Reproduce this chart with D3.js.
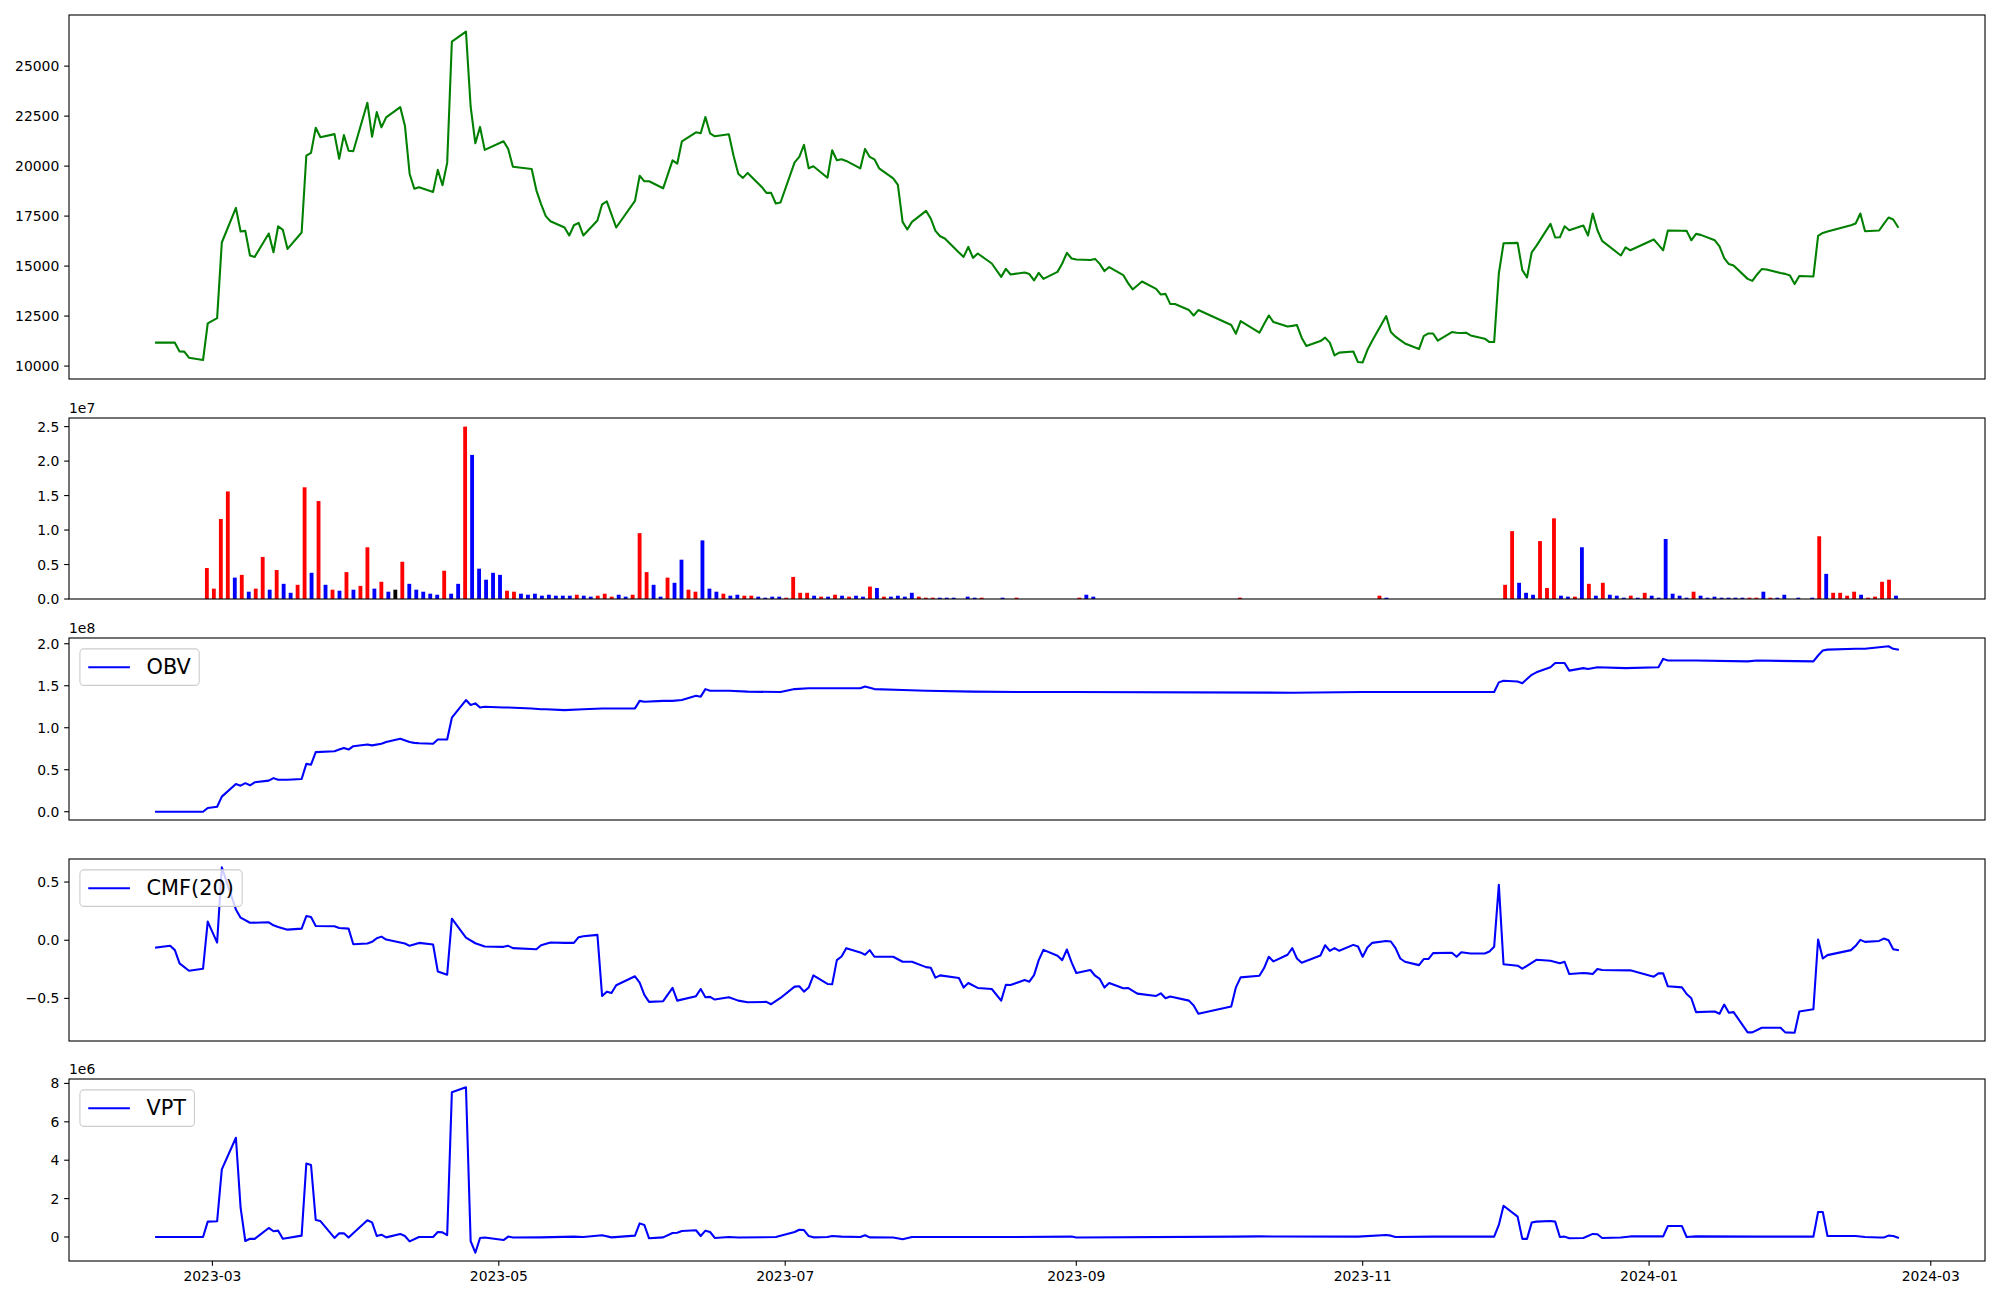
<!DOCTYPE html>
<html><head><meta charset="utf-8">
<script src="https://cdn.jsdelivr.net/npm/d3@7"></script>
<style>body{margin:0;background:#fff}svg{display:block}text{font-family:"DejaVu Sans",sans-serif;fill:#000}</style>
</head><body><svg id="c" width="2000" height="1300"></svg>
<script>
// ---------------- DATA ----------------
const xTickLabels = ["2023-03","2023-05","2023-07","2023-09","2023-11","2024-01","2024-03"];
const priceTicks = [10000,12500,15000,17500,20000,22500,25000];
const volTicks = [0,5,10,15,20,25];          // in 1e6 (shown as x1e7)
const obvTicks = [0,0.5,1,1.5,2];            // x1e8
const cmfTicks = [-0.5,0,0.5];
const vptTicks = [0,2,4,6,8];                // x1e6

const pricePoints = [
["2023-02-17",11170],["2023-02-21",11170],["2023-02-22",10730],["2023-02-23",10720],["2023-02-24",10420],["2023-02-27",10300],["2023-02-28",12130],
["2023-03-02",12400],["2023-03-03",16180],["2023-03-06",17910],["2023-03-07",16730],["2023-03-08",16760],["2023-03-09",15530],["2023-03-10",15460],
["2023-03-13",16630],["2023-03-14",15690],["2023-03-15",16990],["2023-03-16",16810],["2023-03-17",15860],["2023-03-20",16680],["2023-03-21",20520],
["2023-03-22",20660],["2023-03-23",21920],["2023-03-24",21440],["2023-03-27",21600],["2023-03-28",20370],["2023-03-29",21550],["2023-03-30",20770],
["2023-03-31",20740],["2023-04-03",23170],["2023-04-04",21470],["2023-04-05",22700],["2023-04-06",21940],["2023-04-07",22440],["2023-04-10",22950],
["2023-04-11",22020],["2023-04-12",19620],["2023-04-13",18870],["2023-04-14",18940],["2023-04-17",18710],["2023-04-18",19810],["2023-04-19",19040],
["2023-04-20",20160],["2023-04-21",26230],["2023-04-24",26730],["2023-04-25",22970],["2023-04-26",21140],["2023-04-27",21960],["2023-04-28",20810],
["2023-05-02",21240],["2023-05-03",20860],["2023-05-04",19970],["2023-05-08",19860],["2023-05-09",18790],["2023-05-10",18100],["2023-05-11",17500],
["2023-05-12",17240],["2023-05-15",16930],["2023-05-16",16530],["2023-05-17",17040],["2023-05-18",17160],["2023-05-19",16530],["2023-05-22",17280],
["2023-05-23",18090],["2023-05-24",18240],["2023-05-25",17590],["2023-05-26",16930],["2023-05-30",18260],["2023-05-31",19520],["2023-06-01",19240],
["2023-06-02",19240],["2023-06-05",18890],["2023-06-07",20290],["2023-06-08",20120],["2023-06-09",21240],["2023-06-12",21690],["2023-06-13",21640],
["2023-06-14",22450],["2023-06-15",21640],["2023-06-16",21490],["2023-06-19",21590],["2023-06-20",20520],["2023-06-21",19620],["2023-06-22",19410],
["2023-06-23",19660],["2023-06-26",18960],["2023-06-27",18660],["2023-06-28",18660],["2023-06-29",18130],["2023-06-30",18180],["2023-07-03",20190],
["2023-07-04",20460],["2023-07-05",21060],["2023-07-06",19890],["2023-07-07",19990],["2023-07-10",19420],["2023-07-11",20790],["2023-07-12",20290],
["2023-07-13",20340],["2023-07-14",20260],["2023-07-17",19890],["2023-07-18",20860],["2023-07-19",20460],["2023-07-20",20340],["2023-07-21",19890],
["2023-07-24",19390],["2023-07-25",19060],["2023-07-26",17210],["2023-07-27",16830],["2023-07-28",17210],["2023-07-31",17760],["2023-08-01",17380],
["2023-08-02",16760],["2023-08-03",16490],["2023-08-04",16380],["2023-08-07",15680],["2023-08-08",15460],["2023-08-09",15960],["2023-08-10",15410],
["2023-08-11",15630],["2023-08-14",15130],["2023-08-16",14460],["2023-08-17",14860],["2023-08-18",14580],["2023-08-21",14680],["2023-08-22",14600],
["2023-08-23",14280],["2023-08-24",14660],["2023-08-25",14360],["2023-08-28",14710],["2023-08-29",15130],["2023-08-30",15660],["2023-08-31",15380],
["2023-09-01",15330],["2023-09-04",15300],["2023-09-05",15360],["2023-09-06",15110],["2023-09-07",14750],["2023-09-08",14950],["2023-09-11",14550],
["2023-09-12",14160],["2023-09-13",13830],["2023-09-14",14030],["2023-09-15",14230],["2023-09-18",13860],["2023-09-19",13580],["2023-09-20",13610],
["2023-09-21",13110],["2023-09-22",13100],["2023-09-25",12800],["2023-09-26",12530],["2023-09-27",12800],["2023-10-04",12050],["2023-10-05",11620],
["2023-10-06",12250],["2023-10-10",11670],["2023-10-11",12100],["2023-10-12",12530],["2023-10-13",12200],["2023-10-16",11980],["2023-10-17",12010],
["2023-10-18",12050],["2023-10-19",11420],["2023-10-20",11000],["2023-10-23",11250],["2023-10-24",11420],["2023-10-25",11170],["2023-10-26",10530],
["2023-10-27",10670],["2023-10-30",10730],["2023-10-31",10200],["2023-11-01",10180],["2023-11-02",10800],["2023-11-03",11250],["2023-11-06",12500],
["2023-11-07",11700],["2023-11-08",11470],["2023-11-09",11300],["2023-11-10",11130],["2023-11-13",10850],["2023-11-14",11500],["2023-11-15",11630],
["2023-11-16",11630],["2023-11-17",11270],["2023-11-20",11700],["2023-11-21",11670],["2023-11-22",11650],["2023-11-23",11670],["2023-11-24",11530],
["2023-11-27",11370],["2023-11-28",11200],["2023-11-29",11200],["2023-11-30",14630],["2023-12-01",16140],["2023-12-04",16160],["2023-12-05",14800],
["2023-12-06",14430],["2023-12-07",15690],["2023-12-08",16010],["2023-12-11",17110],["2023-12-12",16430],["2023-12-13",16440],["2023-12-14",16990],
["2023-12-15",16790],["2023-12-18",17030],["2023-12-19",16530],["2023-12-20",17630],["2023-12-21",16790],["2023-12-22",16260],["2023-12-26",15530],
["2023-12-27",15940],["2023-12-28",15790],["2024-01-02",16330],["2024-01-03",16060],["2024-01-04",15790],["2024-01-05",16780],["2024-01-08",16770],
["2024-01-09",16760],["2024-01-10",16290],["2024-01-11",16610],["2024-01-12",16560],["2024-01-15",16290],["2024-01-16",15990],["2024-01-17",15400],
["2024-01-18",15100],["2024-01-19",15030],["2024-01-22",14360],["2024-01-23",14260],["2024-01-24",14580],["2024-01-25",14850],["2024-01-26",14830],
["2024-01-29",14650],["2024-01-30",14610],["2024-01-31",14530],["2024-02-01",14100],["2024-02-02",14500],["2024-02-05",14480],["2024-02-06",16510],
["2024-02-07",16660],["2024-02-08",16730],["2024-02-13",17040],["2024-02-14",17130],["2024-02-15",17630],["2024-02-16",16740],["2024-02-19",16780],
["2024-02-20",17110],["2024-02-21",17430],["2024-02-22",17330],["2024-02-23",16960]
];

// volume per trading day (index order), in millions
const volumeM = [
0,0,0,0,0,0,0,4.5,1.5,11.6,
15.6,3.1,3.5,1.06,1.5,6.1,1.35,4.2,2.2,0.9,
2.06,16.2,3.8,14.2,2.06,1.35,1.2,3.9,1.35,1.9,
7.5,1.5,2.5,1.06,1.35,5.4,2.2,1.35,1.06,0.77,
0.62,4.1,0.77,2.2,25.0,20.9,4.4,2.8,3.8,3.5,
1.2,1.06,0.77,0.62,0.77,0.48,0.62,0.48,0.48,0.48,
0.62,0.48,0.34,0.48,0.77,0.34,0.62,0.34,0.62,9.55,
3.9,2.06,0.34,3.1,2.35,5.7,1.35,1.06,8.5,1.5,
1.06,0.77,0.48,0.62,0.48,0.48,0.34,0.19,0.34,0.34,
0.19,3.2,0.9,0.9,0.48,0.34,0.34,0.62,0.48,0.34,
0.48,0.34,1.8,1.6,0.34,0.34,0.48,0.34,0.9,0.34,
0.19,0.19,0.19,0.19,0.19,0,0.34,0.19,0.19,0,
0,0.19,0,0.19,0,0,0,0,0,0,
0,0,0.19,0.62,0.34,0,0,0,0,0,
0,0,0,0,0,0,0,0,0,0,
0,0,0,0,0,0.19,0,0,0,0,
0,0,0,0,0,0,0,0,0,0,
0,0,0,0,0,0.48,0.19,0,0,0,
0,0,0,0,0,0,0,0,0,0,
0,0,0,2.06,9.84,2.35,0.9,0.62,8.4,1.6,
11.7,0.48,0.34,0.34,7.5,2.2,0.48,2.35,0.62,0.48,
0.19,0.48,0.19,0.9,0.48,0.19,8.7,0.77,0.48,0.19,
1.06,0.48,0.19,0.34,0.19,0.19,0.19,0.19,0.19,0.19,
1.06,0.19,0.19,0.62,0,0.19,0,0.19,9.1,3.65,
0.9,0.9,0.48,1.06,0.62,0.19,0.34,2.5,2.8,0.48
];
// bar colour code per trading day: r = red, b = blue, k = black, - = none
const volumeColorCodes = [
"-------rrr","rbrbrrbrbb","rrbrbrbrbr","rbrbkrbbbb","brbbrbbbbb",
"rrbbbbbbbb","rbbrrrbbrr","rbbrbbrrbb","brbbrrbbbb","rrrrbrbrbr",
"bbrbrbbbbr","rrbbb-bbr-","-b-r------","--rbb-----","----------",
"-----r----","----------","-----rb---","----------","---rrbbbrr",
"rbbrbrbrbb","brbrbbbbbb","rbbbbbbbrr","brbb-b-brb","rrrrbrrrrb"
].join("");

const obvPoints = [ // x1e8
["2023-02-17",0],["2023-02-27",0],["2023-02-28",0.045],["2023-03-02",0.06],["2023-03-03",0.18],["2023-03-06",0.33],["2023-03-07",0.31],
["2023-03-08",0.34],["2023-03-09",0.315],["2023-03-10",0.35],["2023-03-13",0.37],["2023-03-14",0.40],["2023-03-15",0.38],["2023-03-17",0.38],
["2023-03-20",0.39],["2023-03-21",0.57],["2023-03-22",0.56],["2023-03-23",0.71],["2023-03-27",0.72],["2023-03-28",0.74],["2023-03-29",0.76],
["2023-03-30",0.74],["2023-03-31",0.78],["2023-04-03",0.80],["2023-04-04",0.79],["2023-04-06",0.81],["2023-04-07",0.83],["2023-04-10",0.87],
["2023-04-12",0.83],["2023-04-13",0.82],["2023-04-14",0.815],["2023-04-17",0.81],["2023-04-18",0.86],["2023-04-20",0.86],["2023-04-21",1.12],
["2023-04-24",1.33],["2023-04-25",1.27],["2023-04-26",1.29],["2023-04-27",1.24],["2023-04-28",1.25],["2023-05-02",1.24],["2023-05-03",1.24],
["2023-05-08",1.23],["2023-05-10",1.22],["2023-05-11",1.22],["2023-05-15",1.21],["2023-05-19",1.22],["2023-05-23",1.23],["2023-05-26",1.23],
["2023-05-30",1.23],["2023-05-31",1.32],["2023-06-01",1.31],["2023-06-05",1.32],["2023-06-07",1.32],["2023-06-09",1.33],["2023-06-12",1.38],
["2023-06-13",1.37],["2023-06-14",1.46],["2023-06-15",1.44],["2023-06-19",1.44],["2023-06-23",1.43],["2023-06-30",1.425],["2023-07-03",1.46],
["2023-07-06",1.47],["2023-07-13",1.47],["2023-07-17",1.47],["2023-07-18",1.49],["2023-07-20",1.46],["2023-07-26",1.45],["2023-07-31",1.44],
["2023-08-10",1.43],["2023-08-21",1.425],["2023-08-31",1.425],["2023-10-17",1.417],["2023-11-01",1.425],["2023-11-13",1.425],["2023-11-29",1.425],
["2023-11-30",1.54],["2023-12-01",1.56],["2023-12-04",1.55],["2023-12-05",1.53],["2023-12-07",1.63],["2023-12-08",1.66],["2023-12-11",1.72],
["2023-12-12",1.77],["2023-12-14",1.77],["2023-12-15",1.68],["2023-12-18",1.71],["2023-12-19",1.70],["2023-12-21",1.72],["2023-12-27",1.71],
["2024-01-03",1.72],["2024-01-04",1.82],["2024-01-05",1.80],["2024-01-11",1.80],["2024-01-22",1.79],["2024-01-24",1.80],["2024-02-05",1.79],
["2024-02-06",1.86],["2024-02-07",1.92],["2024-02-08",1.93],["2024-02-14",1.94],["2024-02-16",1.94],["2024-02-21",1.97],["2024-02-22",1.94],
["2024-02-23",1.93]
];

const cmfPoints = [
["2023-02-17",-0.063],["2023-02-20",-0.048],["2023-02-21",-0.085],["2023-02-22",-0.199],["2023-02-24",-0.262],["2023-02-27",-0.245],["2023-02-28",0.160],
["2023-03-02",-0.02],["2023-03-03",0.627],["2023-03-06",0.265],["2023-03-07",0.194],["2023-03-09",0.150],["2023-03-13",0.154],["2023-03-14",0.128],
["2023-03-15",0.114],["2023-03-17",0.091],["2023-03-20",0.10],["2023-03-21",0.208],["2023-03-22",0.20],["2023-03-23",0.123],["2023-03-27",0.12],
["2023-03-28",0.105],["2023-03-30",0.10],["2023-03-31",-0.034],["2023-04-03",-0.028],["2023-04-04",-0.014],["2023-04-05",0.017],["2023-04-06",0.031],
["2023-04-07",0.006],["2023-04-10",-0.02],["2023-04-11",-0.028],["2023-04-12",-0.048],["2023-04-14",-0.023],["2023-04-17",-0.037],["2023-04-18",-0.268],
["2023-04-20",-0.296],["2023-04-21",0.185],["2023-04-24",0.023],["2023-04-26",-0.026],["2023-04-28",-0.054],["2023-05-02",-0.057],["2023-05-03",-0.048],
["2023-05-04",-0.068],["2023-05-09",-0.077],["2023-05-10",-0.043],["2023-05-12",-0.02],["2023-05-15",-0.023],["2023-05-17",-0.023],["2023-05-18",0.026],
["2023-05-19",0.034],["2023-05-22",0.046],["2023-05-23",-0.479],["2023-05-24",-0.442],["2023-05-25",-0.453],["2023-05-26",-0.387],["2023-05-30",-0.31],
["2023-05-31",-0.365],["2023-06-01",-0.47],["2023-06-02",-0.53],["2023-06-05",-0.524],["2023-06-07",-0.41],["2023-06-08",-0.519],["2023-06-12",-0.481],
["2023-06-13",-0.419],["2023-06-14",-0.49],["2023-06-15",-0.487],["2023-06-16",-0.51],["2023-06-19",-0.49],["2023-06-21",-0.519],["2023-06-23",-0.533],
["2023-06-27",-0.53],["2023-06-28",-0.55],["2023-06-30",-0.496],["2023-07-03",-0.399],["2023-07-04",-0.396],["2023-07-05",-0.442],["2023-07-06",-0.407],
["2023-07-07",-0.302],["2023-07-10",-0.376],["2023-07-11",-0.379],["2023-07-12",-0.171],["2023-07-13",-0.140],["2023-07-14",-0.068],["2023-07-17",-0.105],
["2023-07-18",-0.125],["2023-07-19",-0.085],["2023-07-20",-0.142],["2023-07-24",-0.142],["2023-07-26",-0.185],["2023-07-28",-0.185],["2023-07-31",-0.231],
["2023-08-01",-0.236],["2023-08-02",-0.322],["2023-08-03",-0.302],["2023-08-07",-0.325],["2023-08-08",-0.407],["2023-08-09",-0.368],["2023-08-11",-0.41],
["2023-08-14",-0.419],["2023-08-16",-0.519],["2023-08-17",-0.382],["2023-08-18",-0.385],["2023-08-21",-0.342],["2023-08-22",-0.356],["2023-08-23",-0.30],
["2023-08-24",-0.171],["2023-08-25",-0.083],["2023-08-28",-0.134],["2023-08-29",-0.171],["2023-08-30",-0.08],["2023-08-31",-0.191],["2023-09-01",-0.282],
["2023-09-04",-0.256],["2023-09-05",-0.305],["2023-09-06",-0.333],["2023-09-07",-0.407],["2023-09-08",-0.367],["2023-09-11",-0.413],["2023-09-12",-0.41],
["2023-09-14",-0.459],["2023-09-18",-0.479],["2023-09-19",-0.456],["2023-09-20",-0.499],["2023-09-21",-0.484],["2023-09-25",-0.519],["2023-09-26",-0.561],
["2023-09-27",-0.632],["2023-10-04",-0.570],["2023-10-05",-0.405],["2023-10-06",-0.319],["2023-10-10",-0.305],["2023-10-11",-0.239],["2023-10-12",-0.142],
["2023-10-13",-0.182],["2023-10-16",-0.125],["2023-10-17",-0.068],["2023-10-18",-0.157],["2023-10-19",-0.194],["2023-10-23",-0.131],["2023-10-24",-0.043],
["2023-10-25",-0.091],["2023-10-26",-0.068],["2023-10-27",-0.091],["2023-10-30",-0.04],["2023-10-31",-0.054],["2023-11-01",-0.142],["2023-11-02",-0.063],
["2023-11-03",-0.023],["2023-11-06",-0.006],["2023-11-07",-0.011],["2023-11-08",-0.068],["2023-11-09",-0.157],["2023-11-10",-0.185],["2023-11-13",-0.214],
["2023-11-14",-0.162],["2023-11-15",-0.162],["2023-11-16",-0.111],["2023-11-20",-0.108],["2023-11-21",-0.142],["2023-11-22",-0.103],["2023-11-24",-0.114],
["2023-11-27",-0.114],["2023-11-28",-0.097],["2023-11-29",-0.057],["2023-11-30",0.476],["2023-12-01",-0.207],["2023-12-04",-0.219],["2023-12-05",-0.245],
["2023-12-08",-0.168],["2023-12-11",-0.177],["2023-12-13",-0.197],["2023-12-14",-0.185],["2023-12-15",-0.291],["2023-12-18",-0.282],["2023-12-19",-0.285],
["2023-12-20",-0.291],["2023-12-21",-0.248],["2023-12-22",-0.256],["2023-12-28",-0.259],["2024-01-02",-0.313],["2024-01-03",-0.285],["2024-01-04",-0.285],
["2024-01-05",-0.396],["2024-01-08",-0.405],["2024-01-09",-0.462],["2024-01-10",-0.499],["2024-01-11",-0.618],["2024-01-15",-0.613],["2024-01-16",-0.632],
["2024-01-17",-0.553],["2024-01-18",-0.624],["2024-01-19",-0.618],["2024-01-22",-0.792],["2024-01-23",-0.792],["2024-01-25",-0.752],["2024-01-29",-0.752],
["2024-01-30",-0.792],["2024-02-01",-0.795],["2024-02-02",-0.613],["2024-02-05",-0.593],["2024-02-06",0.006],["2024-02-07",-0.157],["2024-02-08",-0.128],
["2024-02-13",-0.085],["2024-02-14",-0.048],["2024-02-15",0.003],["2024-02-16",-0.014],["2024-02-19",-0.006],["2024-02-20",0.014],["2024-02-21",0.0],
["2024-02-22",-0.077],["2024-02-23",-0.085]
];

const vptPoints = [ // x1e6
["2023-02-17",0],["2023-02-27",0],["2023-02-28",0.80],["2023-03-02",0.82],["2023-03-03",3.52],["2023-03-06",5.17],["2023-03-07",1.53],
["2023-03-08",-0.21],["2023-03-09",-0.09],["2023-03-10",-0.10],["2023-03-13",0.47],["2023-03-14",0.30],["2023-03-15",0.33],["2023-03-16",-0.09],
["2023-03-17",-0.05],["2023-03-20",0.07],["2023-03-21",3.83],["2023-03-22",3.75],["2023-03-23",0.89],["2023-03-24",0.83],["2023-03-27",-0.05],
["2023-03-28",0.19],["2023-03-29",0.19],["2023-03-30",-0.03],["2023-04-03",0.87],["2023-04-04",0.76],["2023-04-05",0.05],["2023-04-06",0.12],
["2023-04-07",-0.02],["2023-04-10",0.16],["2023-04-11",0.05],["2023-04-12",-0.23],["2023-04-14",0.0],["2023-04-17",0.0],["2023-04-18",0.26],
["2023-04-19",0.24],["2023-04-20",0.10],["2023-04-21",7.54],["2023-04-24",7.80],["2023-04-25",-0.21],["2023-04-26",-0.82],["2023-04-27",-0.05],
["2023-04-28",-0.03],["2023-05-02",-0.16],["2023-05-03",0.02],["2023-05-04",-0.03],["2023-05-10",-0.02],["2023-05-17",0.02],["2023-05-19",0.0],
["2023-05-23",0.09],["2023-05-25",-0.02],["2023-05-30",0.07],["2023-05-31",0.71],["2023-06-01",0.625],["2023-06-02",-0.07],["2023-06-05",-0.02],
["2023-06-07",0.21],["2023-06-08",0.22],["2023-06-09",0.31],["2023-06-12",0.35],["2023-06-13",0.05],["2023-06-14",0.33],["2023-06-15",0.26],
["2023-06-16",-0.05],["2023-06-19",0.0],["2023-06-21",-0.03],["2023-06-29",0.0],["2023-07-03",0.26],["2023-07-04",0.38],["2023-07-05",0.36],
["2023-07-06",0.05],["2023-07-07",-0.02],["2023-07-10",0.0],["2023-07-11",0.05],["2023-07-13",0.02],["2023-07-17",0.0],["2023-07-18",0.09],
["2023-07-19",-0.02],["2023-07-24",-0.03],["2023-07-26",-0.12],["2023-07-28",0.0],["2023-08-18",0.0],["2023-08-31",0.02],["2023-09-01",-0.03],
["2023-10-05",0.02],["2023-10-10",0.03],["2023-10-31",0.02],["2023-11-06",0.10],["2023-11-07",0.07],["2023-11-08",0.0],["2023-11-16",0.02],
["2023-11-29",0.02],["2023-11-30",0.63],["2023-12-01",1.63],["2023-12-04",1.06],["2023-12-05",-0.10],["2023-12-06",-0.10],["2023-12-07",0.75],
["2023-12-08",0.80],["2023-12-11",0.83],["2023-12-12",0.80],["2023-12-13",0.0],["2023-12-14",0.02],["2023-12-15",-0.07],["2023-12-18",-0.05],
["2023-12-20",0.16],["2023-12-21",0.14],["2023-12-22",-0.05],["2023-12-26",-0.03],["2023-12-28",0.03],["2024-01-04",0.03],["2024-01-05",0.57],
["2024-01-08",0.57],["2024-01-09",0.0],["2024-01-11",0.03],["2024-01-24",0.02],["2024-02-05",0.02],["2024-02-06",1.30],["2024-02-07",1.30],
["2024-02-08",0.05],["2024-02-14",0.05],["2024-02-16",0.0],["2024-02-19",-0.03],["2024-02-20",-0.03],["2024-02-21",0.07],["2024-02-22",0.05],
["2024-02-23",-0.03]
];

// ---------------- DRAW ----------------
const svg = d3.select("#c");
svg.append("rect").attr("width",2000).attr("height",1300).attr("fill","#fff");
const parse = d3.timeParse("%Y-%m-%d");
const L = 69, R = 1985;
const FS = 13.9, TICK = 4.86, PAD = 4.86;
const panels = {
  price:{top:15,bottom:379}, vol:{top:418,bottom:599}, obv:{top:638,bottom:820},
  cmf:{top:859,bottom:1041}, vpt:{top:1079,bottom:1261}
};
const colorMap = {r:"#ff0000", b:"#0000ff", k:"#000000"};

const allDates = [].concat(pricePoints, obvPoints, cmfPoints, vptPoints).map(d=>parse(d[0]));
const [t0,t1] = d3.extent(allDates);
const span = t1 - t0;
const x = d3.scaleTime().domain([new Date(+t0 - 0.05*span), new Date(+t1 + 0.05*span)]).range([L,R]);

function yScale(vals, p, sticky0){
  let [lo,hi] = d3.extent(vals);
  const r = hi - lo;
  lo = sticky0 ? 0 : lo - 0.05*r;
  hi = hi + 0.05*r;
  return d3.scaleLinear().domain([lo,hi]).range([p.bottom,p.top]);
}

function yAxis(y, ticks, fmt){
  const g = svg.append("g");
  ticks.forEach(t=>{
    const yy = y(t);
    g.append("line").attr("x1",L-TICK).attr("x2",L).attr("y1",yy).attr("y2",yy).attr("stroke","#000").attr("stroke-width",1.1);
    g.append("text").attr("x",L-TICK-PAD).attr("y",yy).attr("text-anchor","end").attr("dominant-baseline","central")
      .attr("font-size",FS).text(fmt(t));
  });
}
function frame(p){
  svg.append("rect").attr("x",L).attr("y",p.top).attr("width",R-L).attr("height",p.bottom-p.top)
    .attr("fill","none").attr("stroke","#000").attr("stroke-width",1.1);
}
function offsetText(p, s){
  svg.append("text").attr("x",L).attr("y",p.top-5).attr("font-size",FS).text(s);
}
function drawLine(points, y, color){
  const line = d3.line().x(d=>x(parse(d[0]))).y(d=>y(d[1]));
  svg.append("path").datum(points).attr("d",line).attr("fill","none").attr("stroke",color)
    .attr("stroke-width",2.08).attr("stroke-linejoin","round").attr("stroke-linecap","square");
}
function legend(p, label){
  const fs = 20.83, bp = 0.4*fs, hl = 2*fs, ht = 0.8*fs;
  const bx = L + 0.5*fs + 0.5, by = p.top + 0.5*fs + 0.5;
  const g = svg.append("g");
  const rect = g.append("rect").attr("x",bx).attr("y",by).attr("rx",4).attr("ry",4)
    .attr("fill","#fff").attr("fill-opacity",0.8).attr("stroke","#cccccc").attr("stroke-width",1.1);
  const h = 36.5, cy = by + h/2;
  g.append("line").attr("x1",bx+bp).attr("x2",bx+bp+hl).attr("y1",cy).attr("y2",cy).attr("stroke","#0000ff").attr("stroke-width",2.08);
  const t = g.append("text").attr("x",bx+bp+hl+ht).attr("y",cy).attr("dominant-baseline","central").attr("font-size",fs).text(label);
  const w = t.node().getComputedTextLength();
  rect.attr("width", bp+hl+ht+w+bp).attr("height",h);
}
const fmt1 = v => d3.format(".1f")(v).replace("-","\u2212");

// Price
const yP = yScale(pricePoints.map(d=>d[1]), panels.price);
drawLine(pricePoints, yP, "#008000");
yAxis(yP, priceTicks, d=>String(d));
frame(panels.price);

// Volume (bars by trading-day index)
const n = volumeM.length, bw = 0.55;
const xi = d3.scaleLinear().domain([-bw/2 - 0.05*(n-1+bw), n-1+bw/2 + 0.05*(n-1+bw)]).range([L,R]);
const yV = yScale(volumeM, panels.vol, true);
svg.append("g").selectAll("rect").data(volumeM.map((v,i)=>({v,i,c:volumeColorCodes[i]})).filter(d=>d.v>0))
  .join("rect").attr("x",d=>xi(d.i-bw/2)).attr("width",xi(bw)-xi(0))
  .attr("y",d=>yV(d.v)).attr("height",d=>yV(0)-yV(d.v)).attr("fill",d=>colorMap[d.c]||"#000");
yAxis(yV, volTicks, d=>fmt1(d/10));
frame(panels.vol);
offsetText(panels.vol, "1e7");

// OBV
const yO = yScale(obvPoints.map(d=>d[1]), panels.obv);
drawLine(obvPoints, yO, "#0000ff");
yAxis(yO, obvTicks, fmt1);
frame(panels.obv);
offsetText(panels.obv, "1e8");
legend(panels.obv, "OBV");

// CMF
const yC = yScale(cmfPoints.map(d=>d[1]), panels.cmf);
drawLine(cmfPoints, yC, "#0000ff");
yAxis(yC, cmfTicks, fmt1);
frame(panels.cmf);
legend(panels.cmf, "CMF(20)");

// VPT
const yT = yScale(vptPoints.map(d=>d[1]), panels.vpt);
drawLine(vptPoints, yT, "#0000ff");
yAxis(yT, vptTicks, d=>String(d));
frame(panels.vpt);
offsetText(panels.vpt, "1e6");
legend(panels.vpt, "VPT");

// x axis (bottom panel only)
const gx = svg.append("g");
xTickLabels.forEach(s=>{
  const xx = x(parse(s+"-01"));
  gx.append("line").attr("x1",xx).attr("x2",xx).attr("y1",panels.vpt.bottom).attr("y2",panels.vpt.bottom+TICK).attr("stroke","#000").attr("stroke-width",1.1);
  gx.append("text").attr("x",xx).attr("y",panels.vpt.bottom+TICK+PAD+10.6).attr("text-anchor","middle").attr("font-size",FS).text(s);
});
</script></body></html>
